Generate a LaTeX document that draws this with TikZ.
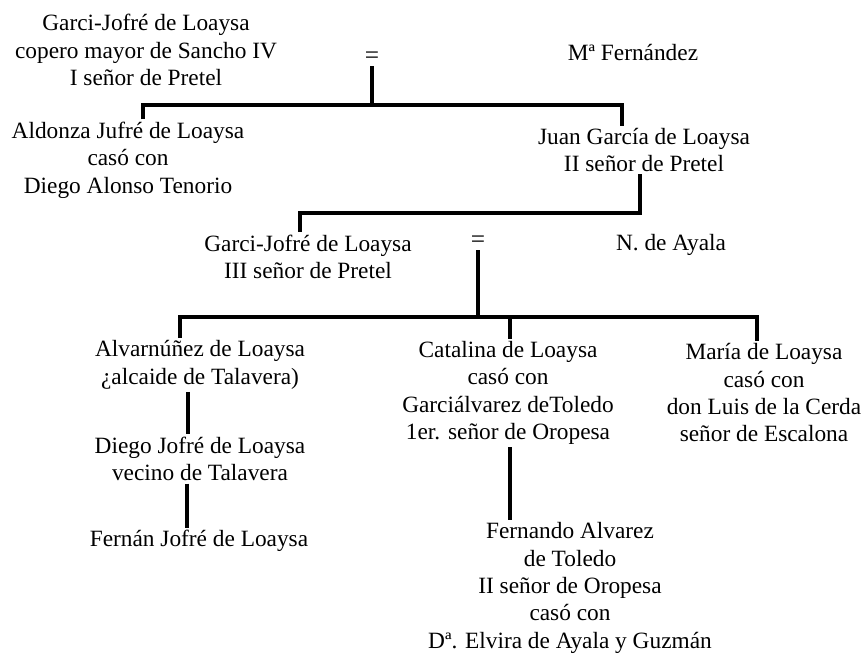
\documentclass[tikz,border=0pt]{standalone}
\usepackage{fontspec}
\setmainfont{Liberation Serif}
\tikzset{every picture/.style={line width=2.4pt}}
\tikzset{persona/.style={align=center,inner sep=0.75pt,font=\fontsize{17.5}{20.5}\selectfont},
  rama/.style={line width=2.4pt,line join=miter}}

\begin{document}
\begin{tikzpicture}[x=0.75pt,y=0.75pt,yscale=-1,xscale=1]
\path[use as bounding box] (0,0) rectangle (867,655);

% Text Node
\node [persona] (gjI) at (146,50) {Garci-Jofré de Loaysa\\copero mayor de Sancho IV\\I señor de Pretel};
% Text Node
\node [persona] (mfer) at (633,53) {Mª Fernández};
% Text Node
\node [persona,font=\fontsize{19}{20}\selectfont] (eqI) at (372,58) {=};
% Text Node
\node [persona] (aldonza) at (128,160) {Aldonza Jufré de Loaysa\\casó con\\Diego Alonso Tenorio};
% Text Node
\node [persona] (juan) at (644,150) {Juan García de Loaysa\\II señor de Pretel};
% Text Node
\node [persona] (gjIII) at (308,257) {Garci-Jofré de Loaysa\\III señor de Pretel};
% Text Node
\node [persona,font=\fontsize{19}{20}\selectfont] (eqII) at (478,242) {=};
% Text Node
\node [persona] (ayala) at (671,245) {N. de Ayala};
% Text Node
\node [persona] (alvar) at (200,365) {Alvarnúñez de Loaysa\\¿alcaide de Talavera)};
% Text Node
\node [persona] (catalina) at (508,393) {Catalina de Loaysa\\casó con\\Garciálvarez deToledo\\1er. señor de Oropesa};
% Text Node
\node [persona] (maria) at (764,393) {María de Loaysa\\casó con\\don Luis de la Cerda\\señor de Escalona};
% Text Node
\node [persona] (diego) at (200,459) {Diego Jofré de Loaysa\\vecino de Talavera};
% Text Node
\node [persona] (fernan) at (199,541) {Fernán Jofré de Loaysa};
% Text Node
\node [persona] (fernando) at (570,588) {Fernando Alvarez\\de Toledo\\II señor de Oropesa\\casó con\\Dª. Elvira de Ayala y Guzmán};

% junctions
\coordinate (jI) at (372,105);
\coordinate (jIa) at (143,105);
\coordinate (jIb) at (622,105);
\coordinate (jIIa) at (300,213);
\coordinate (jIIb) at (640,213);
\coordinate (jIII) at (478,317);
\coordinate (jIIIa) at (180,317);
\coordinate (jIIIb) at (510,317);
\coordinate (jIIIc) at (757,317);

%Straight Lines
\draw [rama] (eqI.south) -- (jI);
\draw [rama] (jIa |- aldonza.north) -- (jIa) -- (jIb) -- (jIb |- juan.north);
%Straight Lines
\draw [rama] (jIIb |- juan.south) -- (jIIb) -- (jIIa) -- (jIIa |- gjIII.north);
%Straight Lines
\draw [rama] (eqII.south) -- (jIII);
\draw [rama] (jIIIa |- alvar.north) -- (jIIIa) -- (jIIIc) -- (jIIIc |- maria.north);
\draw [rama] (jIIIb) -- (jIIIb |- catalina.north);
%Straight Lines
\draw [rama] (188,0 |- alvar.south) -- (188,0 |- diego.north);
\draw [rama] (187,0 |- diego.south) -- (187,0 |- fernan.north);
\draw [rama] (jIIIb |- catalina.south) -- (jIIIb |- fernando.north);

\end{tikzpicture}
\end{document}
